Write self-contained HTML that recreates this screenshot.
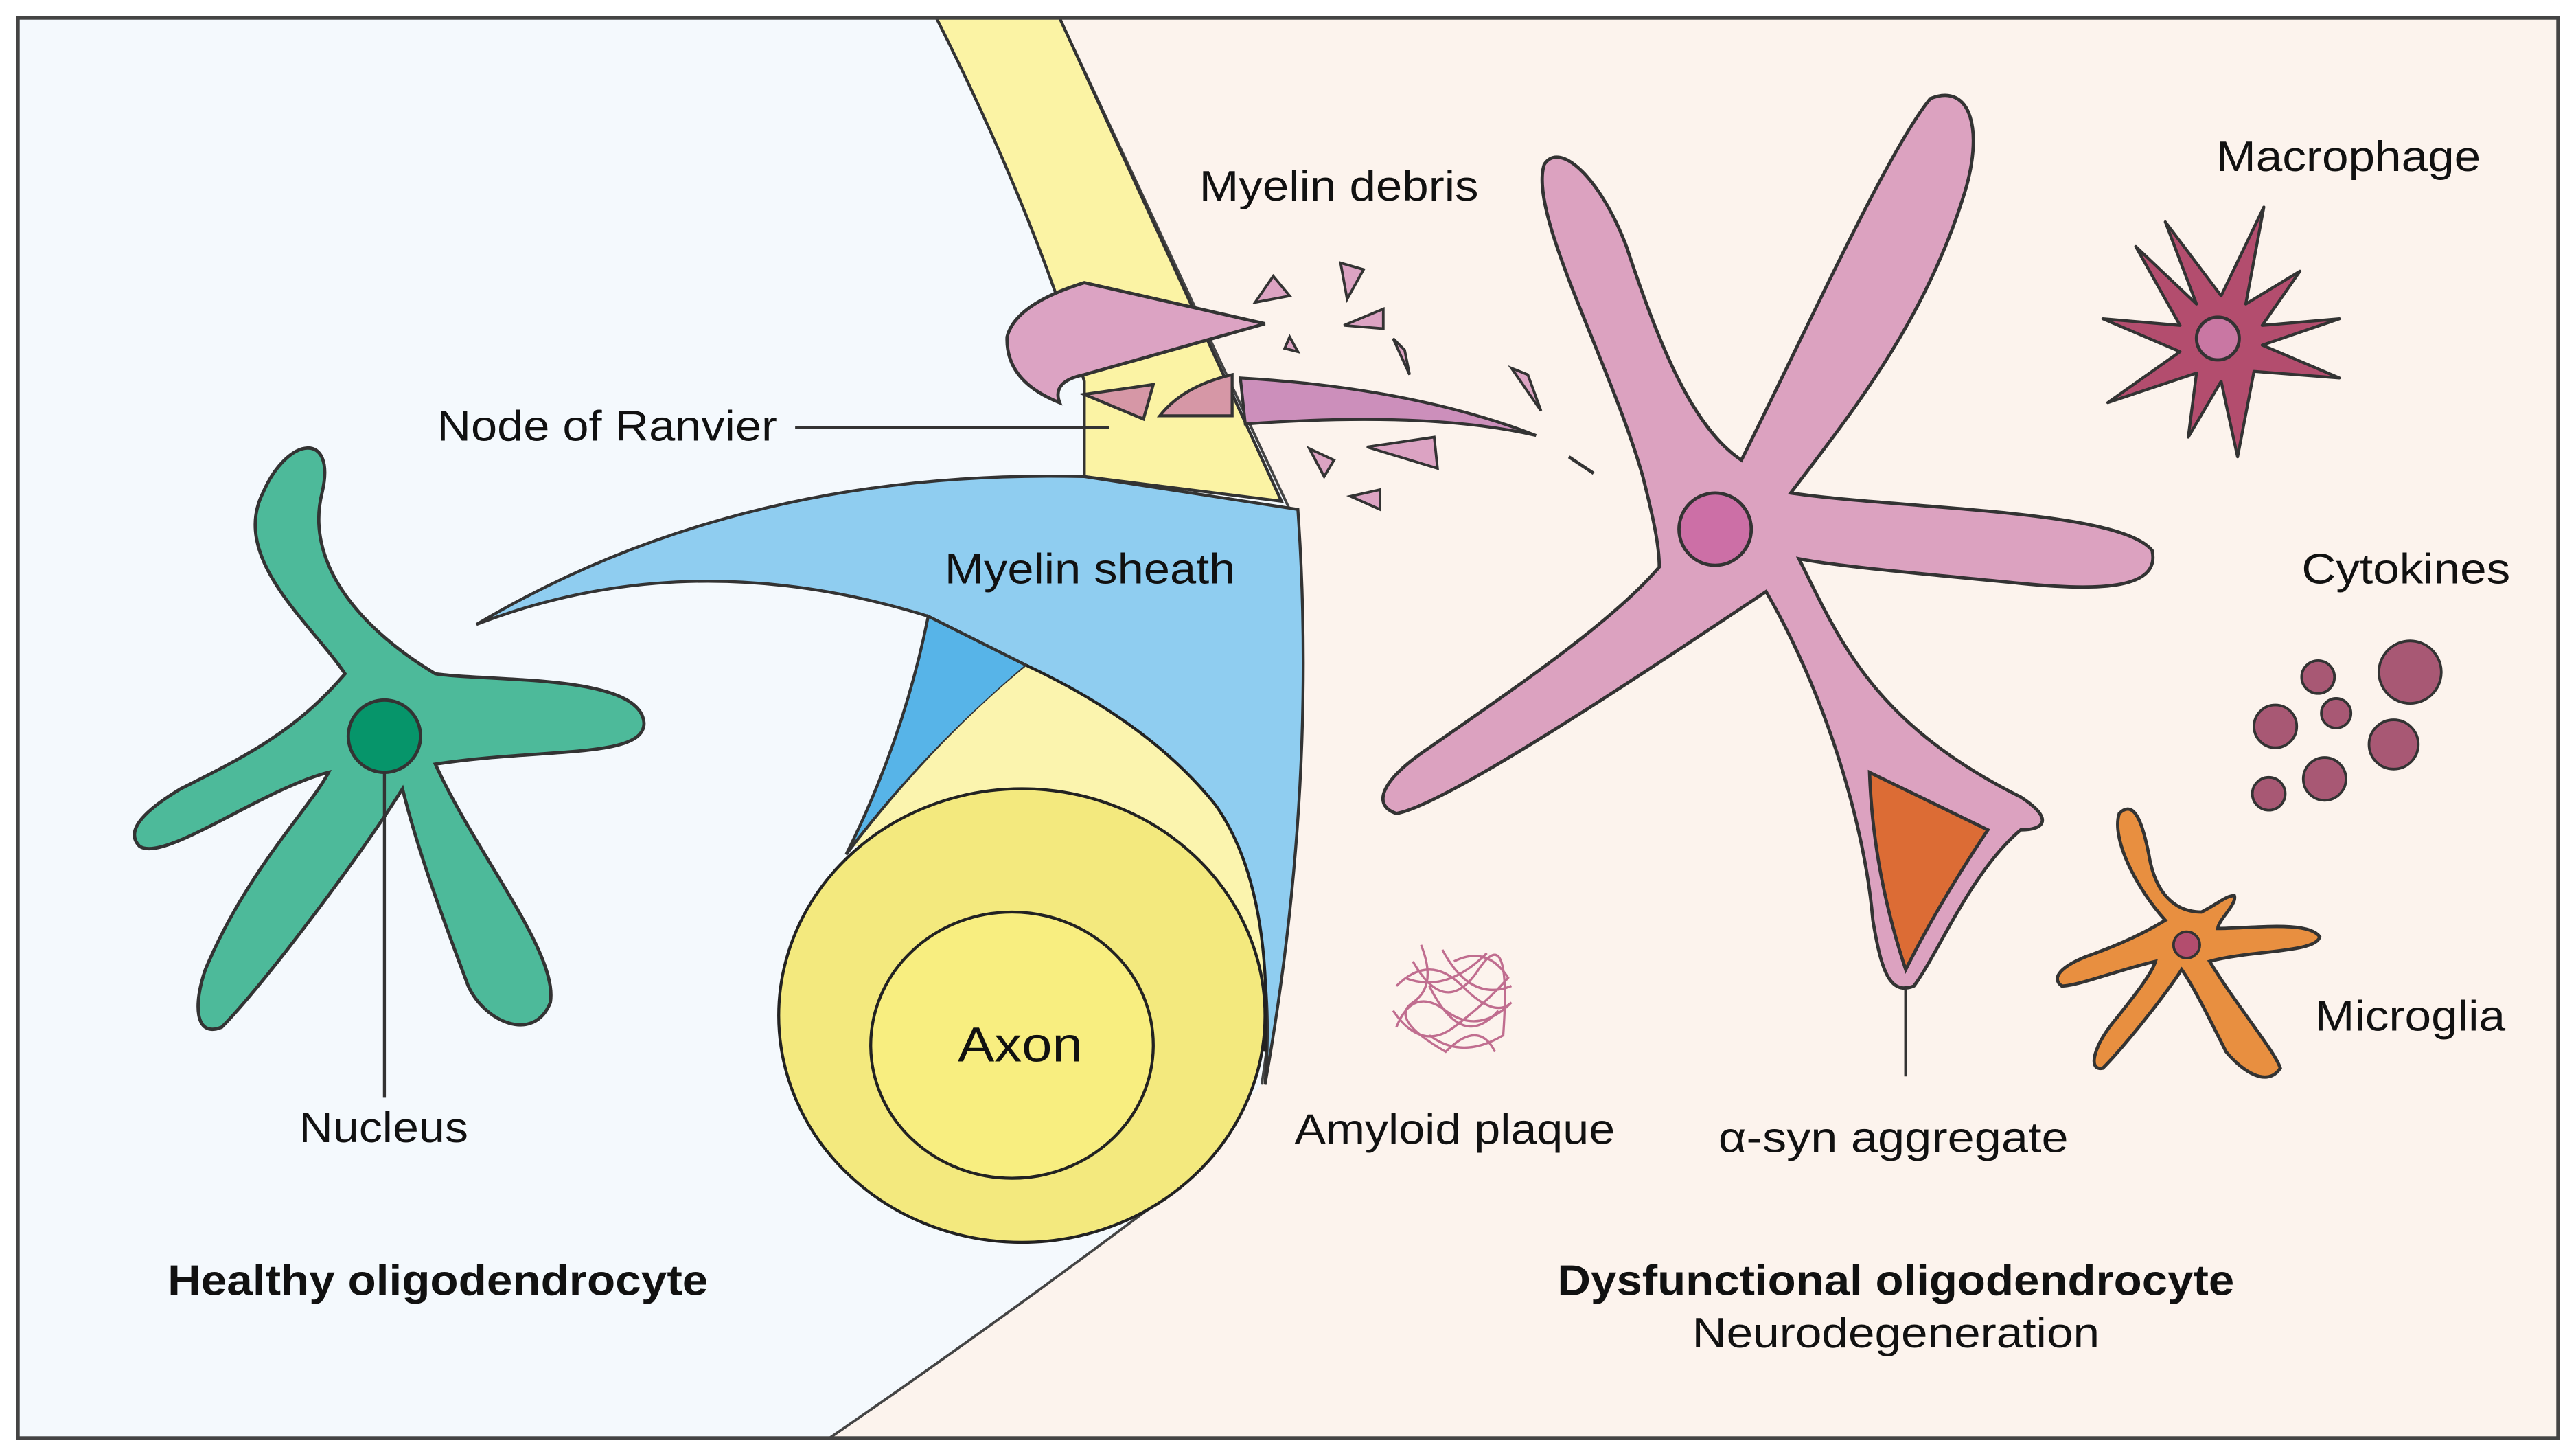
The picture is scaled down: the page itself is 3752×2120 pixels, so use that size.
<!DOCTYPE html>
<html><head><meta charset="utf-8"><style>html,body{margin:0;padding:0;background:#fff}svg{display:block}text{font-family:"Liberation Sans",sans-serif;fill:#111}</style></head>
<body>
<svg width="3752" height="2120" viewBox="0 0 1568 886" preserveAspectRatio="none" xmlns="http://www.w3.org/2000/svg">
<rect x="0" y="0" width="1568" height="886" fill="#fff"/>
<rect x="11" y="11" width="1546" height="864" fill="#f4f9fd"/>
<path d="M645,11 L785,310 Q795,480 768,660 L700,735 Q600,810 505,875 L1557,875 L1557,11 Z" fill="#fcf3ed"/>
<path d="M645,11 L785,310 Q795,480 768,660 M700,735 Q600,810 505,875" fill="none" stroke="#444" stroke-width="1.6"/>
<path d="M570,11 L645,11 L780,305 L660,290 L660,232 Q630,130 570,11 Z" fill="#fbf3a4" stroke="#333" stroke-width="1.8"/>
<path d="M290,380 Q450,285 660,290 L790,310 Q802,480 770,660 Q780,540 720,480 Q660,440 625,405 L565,375 Q420,330 290,380 Z" fill="#8fcdf0" stroke="#333" stroke-width="1.8"/>
<path d="M565,375 L625,405 Q560,460 515,520 Q550,450 565,375 Z" fill="#57b4e8" stroke="#333" stroke-width="1.8"/>
<path d="M625,405 Q700,440 740,490 Q775,540 770,640 L700,500 L520,515 Q570,450 625,405 Z" fill="#fbf4ae"/>
<path d="M625,405 Q700,440 740,490 Q775,540 770,640" fill="none" stroke="#222" stroke-width="1.8"/>
<ellipse cx="622" cy="618" rx="148" ry="138" fill="#f3e97e" stroke="#222" stroke-width="1.8"/>
<ellipse cx="616" cy="636" rx="86" ry="81" fill="#f8ee80" stroke="#222" stroke-width="1.8"/>
<text x="583" y="646" font-size="30" textLength="76" lengthAdjust="spacingAndGlyphs">Axon</text>
<path d="M660,172 L770,197 L660,228 Q640,232 645,245 Q612,232 613,205 Q618,185 660,172 Z" fill="#dca3c3" stroke="#333" stroke-width="2"/>
<path d="M660,240 L702,234 L696,255 Z" fill="#d697a6" stroke="#333" stroke-width="1.8"/>
<path d="M706,253 Q720,235 750,228 L750,253 Z" fill="#d697a6" stroke="#333" stroke-width="1.8"/>
<path d="M755,230 Q860,236 935,265 Q870,250 758,258 Z" fill="#cc8fbb" stroke="#333" stroke-width="1.8"/>
<g fill="#dca3c3" stroke="#333" stroke-width="1.6">
<path d="M775,168 L785,180 L764,184 Z"/><path d="M816,160 L830,164 L820,182 Z"/>
<path d="M818,198 L842,188 L842,200 Z"/><path d="M848,206 L855,213 L858,228 Z"/>
<path d="M782,212 L785,205 L790,214 Z"/><path d="M920,224 L930,228 L938,250 Z"/>
<path d="M797,273 L812,280 L806,290 Z"/><path d="M832,272 L873,266 L875,285 Z"/>
<path d="M822,302 L840,298 L840,310 Z"/>
</g>
<path d="M210,410 C190,380 140,340 160,300 C175,265 205,262 196,300 C186,340 215,380 265,410 C300,415 390,410 392,440 C392,462 330,455 265,465 C290,520 340,580 335,610 C325,635 295,622 285,600 C270,560 255,520 245,480 C220,520 160,600 135,625 C118,632 118,610 125,590 C150,530 190,490 200,470 C160,480 100,525 85,515 C75,505 90,492 110,480 C150,460 180,445 210,410 Z" fill="#4dba9a" stroke="#333" stroke-width="2"/>
<circle cx="234" cy="448" r="22" fill="#06956a" stroke="#333" stroke-width="2"/>
<line x1="234" y1="470" x2="234" y2="668" stroke="#333" stroke-width="1.8"/>
<text x="182" y="695" font-size="26" textLength="103" lengthAdjust="spacingAndGlyphs">Nucleus</text>
<text x="102" y="788" font-size="26" font-weight="bold" textLength="329" lengthAdjust="spacingAndGlyphs">Healthy oligodendrocyte</text>
<text x="266" y="268" font-size="26" textLength="207" lengthAdjust="spacingAndGlyphs">Node of Ranvier</text>
<line x1="484" y1="260" x2="675" y2="260" stroke="#333" stroke-width="1.8"/>
<text x="575" y="355" font-size="26" textLength="177" lengthAdjust="spacingAndGlyphs">Myelin sheath</text>
<text x="730" y="122" font-size="26" textLength="170" lengthAdjust="spacingAndGlyphs">Myelin debris</text>
<path d="M1000,290 C980,220 930,130 940,100 C950,85 975,110 990,150 C1010,210 1030,260 1060,280 C1100,200 1150,90 1175,60 C1200,50 1208,80 1195,120 C1170,200 1120,260 1090,300 C1160,310 1290,310 1310,335 C1315,358 1280,360 1230,355 C1180,350 1120,345 1095,340 C1120,390 1140,440 1230,485 C1250,498 1245,505 1230,505 C1200,530 1180,580 1165,600 C1150,606 1145,590 1140,560 C1135,500 1110,420 1075,360 C1000,410 880,490 850,495 C835,490 840,475 870,455 C920,420 980,380 1010,345 C1010,330 1005,310 1000,290 Z" fill="#dca2c0" stroke="#333" stroke-width="2"/>
<circle cx="1044" cy="322" r="22" fill="#cc6fa6" stroke="#333" stroke-width="2"/>
<path d="M1138,470 L1210,505 Q1180,550 1160,590 Q1140,530 1138,470 Z" fill="#dc6c35" stroke="#333" stroke-width="2"/>
<line x1="1160" y1="600" x2="1160" y2="655" stroke="#333" stroke-width="1.8"/>
<line x1="955" y1="278" x2="970" y2="288" stroke="#333" stroke-width="2"/>
<text x="1046" y="701" font-size="26" textLength="213" lengthAdjust="spacingAndGlyphs">α-syn aggregate</text>
<text x="788" y="696" font-size="26" textLength="195" lengthAdjust="spacingAndGlyphs">Amyloid plaque</text>
<text x="948" y="788" font-size="26" font-weight="bold" textLength="412" lengthAdjust="spacingAndGlyphs">Dysfunctional oligodendrocyte</text>
<text x="1030" y="820" font-size="26" textLength="248" lengthAdjust="spacingAndGlyphs">Neurodegeneration</text>
<g fill="none" stroke="#c06d8f" stroke-width="1.4">
<path d="M850,600 Q870,580 890,600 T920,610 Q900,630 880,615 T850,625"/>
<path d="M860,585 Q880,620 900,590 T915,630 Q890,645 870,630"/>
<path d="M848,615 Q865,640 885,625 T918,595 Q905,575 885,585"/>
<path d="M865,575 Q875,600 860,610 T880,640 Q900,620 910,640"/>
<path d="M855,595 Q880,605 905,580 M870,600 Q890,640 912,615 M878,578 Q895,610 920,600"/>
</g>
<polygon points="1424,194 1377,210 1424,230 1372,226 1362,278 1352,232 1332,266 1337,227 1283,245 1327,214 1280,194 1327,198 1300,150 1337,185 1318,135 1352,180 1378,126 1367,185 1400,165 1377,198" fill="#b34d6e" stroke="#333" stroke-width="1.8" stroke-linejoin="round"/>
<circle cx="1350" cy="206" r="13" fill="#c977a3" stroke="#333" stroke-width="2"/>
<text x="1349" y="104" font-size="26" textLength="161" lengthAdjust="spacingAndGlyphs">Macrophage</text>
<text x="1401" y="355" font-size="26" textLength="127" lengthAdjust="spacingAndGlyphs">Cytokines</text>
<g fill="#a85874" stroke="#333" stroke-width="1.6">
<circle cx="1467" cy="409" r="19"/><circle cx="1411" cy="412" r="10"/><circle cx="1385" cy="442" r="13"/>
<circle cx="1422" cy="434" r="9"/><circle cx="1457" cy="453" r="15"/><circle cx="1415" cy="474" r="13"/><circle cx="1381" cy="483" r="10"/>
</g>
<path d="M1318,560 C1300,540 1285,510 1290,495 C1300,485 1305,505 1308,520 C1312,545 1325,555 1340,555 C1350,550 1355,545 1360,545 C1362,550 1350,560 1350,565 C1370,565 1405,560 1412,570 C1410,580 1370,578 1345,585 C1360,610 1385,640 1388,650 C1380,662 1365,652 1355,640 C1345,620 1335,600 1328,590 C1315,610 1290,640 1280,650 C1270,652 1275,635 1288,620 C1300,605 1310,592 1312,585 C1290,590 1265,600 1255,600 C1248,595 1255,588 1270,582 C1290,575 1305,568 1318,560 Z" fill="#e88f40" stroke="#333" stroke-width="2"/>
<circle cx="1331" cy="575" r="8" fill="#b34d6e" stroke="#333" stroke-width="1.6"/>
<text x="1409" y="627" font-size="26" textLength="116" lengthAdjust="spacingAndGlyphs">Microglia</text>
<rect x="11" y="11" width="1546" height="864" fill="none" stroke="#444" stroke-width="2"/>
</svg>
</body></html>
